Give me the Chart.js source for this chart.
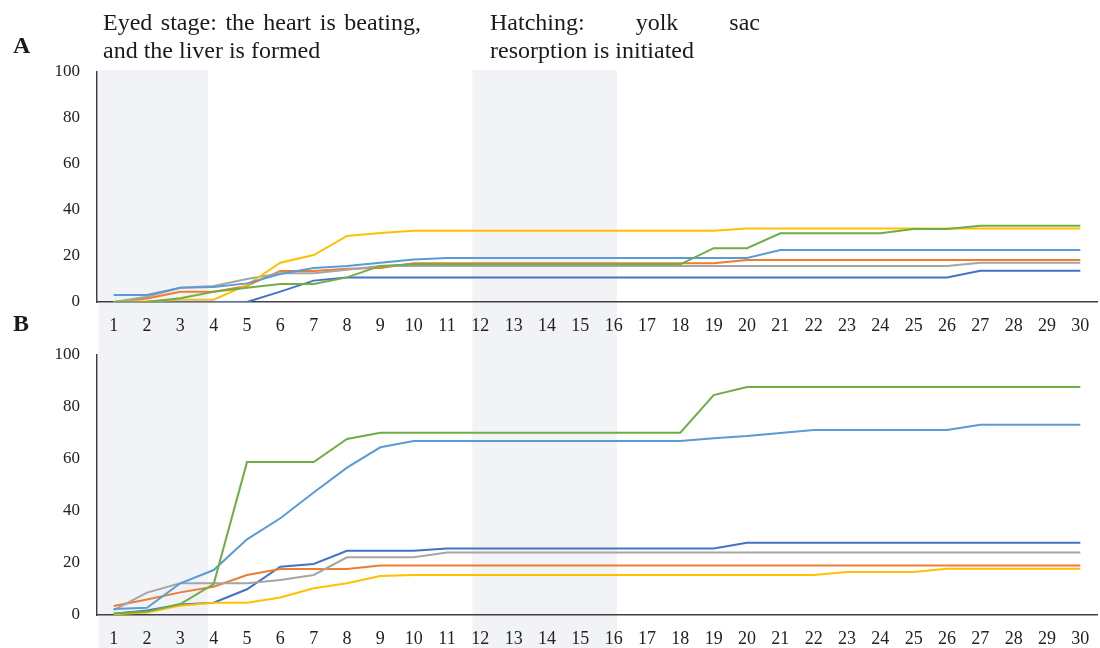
<!DOCTYPE html>
<html>
<head>
<meta charset="utf-8">
<script src="https://cdn.jsdelivr.net/npm/chart.js@4.4.1/dist/chart.umd.min.js"></script>
<style>
  body { margin: 0; background: #fff; }
  #wrap { position: relative; width: 1100px; height: 648px; overflow: hidden; font-family: "Liberation Serif", "Times New Roman", serif; color: #1a1a1a; }
  canvas { position: absolute; left: 0; }
  .panel { position: absolute; left: 13px; font-weight: bold; font-size: 24px; }
  .note { position: absolute; font-size: 24px; line-height: 28px; text-align: justify; }
</style>
</head>
<body>
<div id="wrap">
  <canvas id="chartA" width="1100" height="342" style="top:0"></canvas>
  <canvas id="chartB" width="1100" height="306" style="top:342px"></canvas>
  <div class="panel" style="top:32px">A</div>
  <div class="panel" style="top:310px">B</div>
  <div class="note" style="left:103px; top:8px; width:318px">Eyed stage: the heart is beating, and the liver is formed</div>
  <div class="note" style="left:490px; top:8px; width:270px">Hatching: yolk sac resorption is initiated</div>
</div>
<script>
// days on the x axis
const days = [1,2,3,4,5,6,7,8,9,10,11,12,13,14,15,16,17,18,19,20,21,22,23,24,25,26,27,28,29,30];
// shaded stage spans (in days)
const stageSpans = [[0.55, 3.83], [11.76, 16.1]];
const yTicks = [0, 20, 40, 60, 80, 100];

const colors = ['#4472C4', '#ED7D31', '#A5A5A5', '#FFC000', '#5B9BD5', '#70AD47'];

// Panel A
const blueA   = [0,0,0,0,0,4.5,9.3,10.7,10.7,10.7,10.7,10.7,10.7,10.7,10.7,10.7,10.7,10.7,10.7,10.7,10.7,10.7,10.7,10.7,10.7,10.7,13.6,13.6,13.6,13.6];
const orangeA = [0,1.5,4.5,4.5,7,13.5,13.5,14.5,14.8,16.8,16.8,16.8,16.8,16.8,16.8,16.8,16.8,16.8,16.8,18.3,18.3,18.3,18.3,18.3,18.3,18.3,18.3,18.3,18.3,18.3];
const grayA   = [0,2.3,6.2,7,10,12.5,12.5,14,15.7,15.7,15.7,15.7,15.7,15.7,15.7,15.7,15.7,15.7,15.7,15.7,15.7,15.7,15.7,15.7,15.7,15.7,17.1,17.1,17.1,17.1];
const yellowA = [0,0.3,1,1,7.4,17.1,20.4,28.7,30,31,31,31,31,31,31,31,31,31,31,32,32,32,32,32,32,32,32,32,32,32];
const lblueA  = [3,3,6.2,6.5,8.1,12.2,14.8,15.7,17.1,18.5,19.1,19.1,19.1,19.1,19.1,19.1,19.1,19.1,19.1,19.1,22.6,22.6,22.6,22.6,22.6,22.6,22.6,22.6,22.6,22.6];
const greenA  = [0,0,1.6,4.5,6.2,7.8,7.8,10.7,15.7,16.4,16.4,16.4,16.4,16.4,16.4,16.4,16.4,16.4,23.4,23.4,29.9,29.9,29.9,29.9,31.7,31.7,33.2,33.2,33.2,33.2];

// Panel B
const blueB   = [0.5,1.7,4,4.7,9.9,18.6,19.6,24.7,24.7,24.7,25.6,25.6,25.6,25.6,25.6,25.6,25.6,25.6,25.6,27.8,27.8,27.8,27.8,27.8,27.8,27.8,27.8,27.8,27.8,27.8];
const orangeB = [3.5,6,8.7,10.9,15.4,17.7,17.7,17.7,19,19,19,19,19,19,19,19,19,19,19,19,19,19,19,19,19,19,19,19,19,19];
const grayB   = [1.9,8.6,12.2,12.2,12.2,13.5,15.4,22.2,22.2,22.2,24,24,24,24,24,24,24,24,24,24,24,24,24,24,24,24,24,24,24,24];
const yellowB = [0.3,1,3.6,4.7,4.7,6.7,10.3,12.2,15,15.4,15.4,15.4,15.4,15.4,15.4,15.4,15.4,15.4,15.4,15.4,15.4,15.4,16.5,16.5,16.5,17.8,17.8,17.8,17.8,17.8];
const lblueB  = [2.3,2.8,12.2,17.3,29.1,37.2,47.1,56.7,64.5,66.9,66.9,66.9,66.9,66.9,66.9,66.9,66.9,66.9,68,68.8,70,71.2,71.2,71.2,71.2,71.2,73.2,73.2,73.2,73.2];
const greenB  = [0.6,1.3,4.2,11.9,58.8,58.8,58.8,67.7,70.1,70.1,70.1,70.1,70.1,70.1,70.1,70.1,70.1,70.1,84.6,87.7,87.7,87.7,87.7,87.7,87.7,87.7,87.7,87.7,87.7,87.7];

// draw the grey stage bands behind everything, down through the tick labels
const shadePlugin = {
    id: 'shadePlugin',
    beforeDraw(chart, args, opts) {
        const {ctx, chartArea, scales: {x}} = chart;
        const top = opts.fromCanvasTop ? 0 : chartArea.top - 2;
        ctx.save();
        ctx.fillStyle = '#F2F3F7';
        stageSpans.forEach(([a, b]) => {
            const x1 = x.getPixelForValue(a);
            const x2 = x.getPixelForValue(b);
            ctx.fillRect(x1, top, x2 - x1, chart.height - top);
        });
        ctx.restore();
    }
};

function makeChart(id, series, topPad, xHeight, fromCanvasTop) {
    const ctx = document.getElementById(id).getContext('2d');
    return new Chart(ctx, {
        type: 'line',
        data: {
            datasets: series.map((vals, i) => ({
                data: vals.map((v, j) => ({x: days[j], y: v})),
                borderColor: colors[i],
                borderWidth: 2,
                pointRadius: 0,
                tension: 0,
                fill: false,
                order: series.length - i
            }))
        },
        options: {
            responsive: false,
            animation: false,
            layout: { padding: { top: topPad, right: 3, left: 0, bottom: 0 } },
            scales: {
                x: {
                    type: 'linear',
                    min: 0.5,
                    max: 30.5,
                    afterBuildTicks: (s) => { s.ticks = days.map(d => ({value: d})); },
                    afterFit: (s) => { s.height = xHeight; s.paddingLeft = 0; s.paddingRight = 0; },
                    grid: { display: false, drawTicks: false },
                    border: { display: true, color: '#404040', width: 1.5 },
                    ticks: {
                        autoSkip: false,
                        maxRotation: 0,
                        padding: 13,
                        color: '#222',
                        font: { family: 'Liberation Serif', size: 18 }
                    }
                },
                y: {
                    min: 0,
                    max: 100,
                    afterBuildTicks: (s) => { s.ticks = yTicks.map(v => ({value: v})); },
                    afterFit: (s) => { s.width = 97; s.paddingTop = 0; s.paddingBottom = 0; },
                    grid: { display: false, drawTicks: false },
                    border: { display: true, color: '#404040', width: 1.5 },
                    ticks: {
                        padding: 17,
                        color: '#222',
                        font: { family: 'Liberation Serif', size: 17 }
                    }
                }
            },
            plugins: {
                legend: { display: false },
                tooltip: { enabled: false },
                shadePlugin: { fromCanvasTop: fromCanvasTop }
            }
        },
        plugins: [shadePlugin]
    });
}

makeChart('chartA', [blueA, orangeA, grayA, yellowA, lblueA, greenA], 72, 40, false);
makeChart('chartB', [blueB, orangeB, grayB, yellowB, lblueB, greenB], 13, 33, true);
</script>
</body>
</html>
